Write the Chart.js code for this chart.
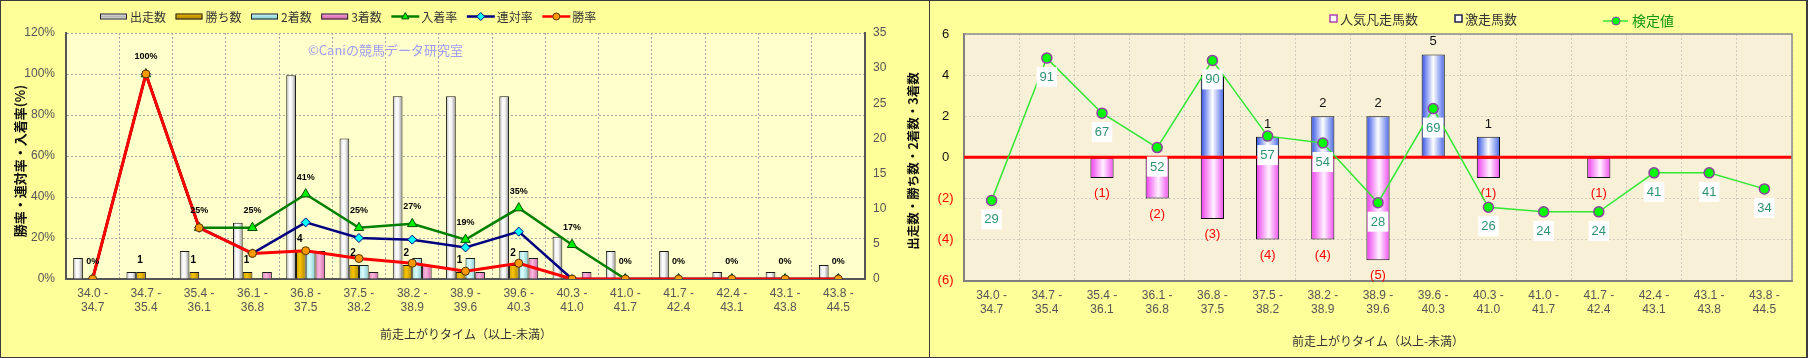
<!DOCTYPE html>
<html><head><meta charset="utf-8">
<script src="https://cdn.jsdelivr.net/npm/chart.js@4.4.0/dist/chart.umd.min.js"></script>
<style>
html,body{margin:0;padding:0;background:#fff;}
#wrap{position:relative;width:1808px;height:358px;background:#3c3c3c;overflow:hidden;}
#lp{position:absolute;left:1px;top:1px;width:928px;height:356px;background:#FFFF99;}
#rp{position:absolute;left:930px;top:1px;width:876px;height:356px;background:#FFFF99;}
canvas{display:block;}
</style></head><body>
<div id="wrap"><div id="lp"><canvas id="c1" width="928" height="356"></canvas></div><div id="rp"><canvas id="c2" width="876" height="356"></canvas></div></div>
<script>
// ---------- data ----------
const lowBounds  = ['34.0','34.7','35.4','36.1','36.8','37.5','38.2','38.9','39.6','40.3','41.0','41.7','42.4','43.1','43.8'];
const highBounds = ['34.7','35.4','36.1','36.8','37.5','38.2','38.9','39.6','40.3','41.0','41.7','42.4','43.1','43.8','44.5'];
const runs    = [3,1,4,8,29,20,26,26,26,6,4,4,1,1,2];
const wins    = [0,1,1,1,4,2,2,1,2,0,0,0,0,0,0];
const seconds = [0,0,0,0,4,2,3,3,4,0,0,0,0,0,0];
const thirds  = [0,0,0,1,4,1,2,1,3,1,0,0,0,0,0];
const placeRate    = [0,100,25,25,41.4,25,26.9,19.2,34.6,16.7,0,0,0,0,0];
const quinellaRate = [0,100,25,12.5,27.6,20,19.2,15.4,23.1,0,0,0,0,0,0];
const winRate      = [0,100,25,12.5,13.8,10,7.7,3.8,7.7,0,0,0,0,0,0];
const popularFail = [0,0,-1,-2,-3,-4,-4,-5,0,-1,0,-1,0,0,0];
const longshot    = [0,0,0,0,4,1,2,2,5,1,0,0,0,0,0];
const testValue   = [29,91,67,52,90,57,54,28,69,26,24,24,41,41,34];

const xLabels = lowBounds.map((lo,i)=>[lo+' -', highBounds[i]]);
const nz = a => a.map(v => v === 0 ? null : v);

// ---------- styles ----------
const FONT = '"Liberation Sans","Noto Sans CJK JP",sans-serif';
const JFONT = '"Noto Sans CJK JP","Liberation Sans",sans-serif';
const G_RUN  = [[0,'#B4B4B4'],[0.35,'#FFFFFF'],[0.6,'#F2F2F2'],[1,'#8A8A8A']];
const G_WIN  = [[0,'#C99A00'],[0.4,'#F7C600'],[1,'#AD8200']];
const G_2ND  = [[0,'#9EE2E6'],[0.4,'#DAFCFC'],[1,'#84CBD2']];
const G_3RD  = [[0,'#E47DBE'],[0.4,'#F9B8DD'],[1,'#D268AC']];
const G_BLUE = [[0,'#2E4EE6'],[0.5,'#FFFFFF'],[1,'#4866E8']];
const G_PINK = [[0,'#EE3CEE'],[0.55,'#FFF2FF'],[1,'#F04EF0']];

function barGrad(c, stops, slot, nSlots, catPct, barPct) {
  const chart = c.chart; const xs = chart.scales && chart.scales.x;
  if (c.type !== 'data' || !xs || !chart.chartArea) return stops[1][1];
  const n = chart.data.labels.length;
  const catW = (xs.right - xs.left) / n;
  const center = xs.getPixelForValue(c.dataIndex);
  const groupW = catW * catPct, slotW = groupW / nSlots, barW = slotW * barPct;
  const x0 = center - groupW/2 + slot*slotW + (slotW - barW)/2;
  const g = chart.ctx.createLinearGradient(x0, 0, x0 + barW, 0);
  stops.forEach(s => g.addColorStop(s[0], s[1]));
  return g;
}
function vtext(ctx, text, x, y, font, color) {
  ctx.save(); ctx.translate(x, y); ctx.rotate(-Math.PI/2);
  ctx.textAlign = 'center'; ctx.textBaseline = 'middle'; ctx.font = font; ctx.fillStyle = color;
  ctx.fillText(text, 0, 0); ctx.restore();
}
function drawMarker(ctx, style, x, y, r, fill, stroke) {
  ctx.save(); ctx.fillStyle = fill; ctx.strokeStyle = stroke; ctx.lineWidth = 1;
  ctx.beginPath();
  if (style === 'triangle') { ctx.moveTo(x, y - r); ctx.lineTo(x + r*0.9, y + r*0.6); ctx.lineTo(x - r*0.9, y + r*0.6); ctx.closePath(); }
  else if (style === 'diamond') { ctx.moveTo(x, y - r); ctx.lineTo(x + r, y); ctx.lineTo(x, y + r); ctx.lineTo(x - r, y); ctx.closePath(); }
  else { ctx.arc(x, y, r, 0, Math.PI*2); }
  ctx.fill(); ctx.stroke(); ctx.restore();
}

// ---------- left chart ----------
const leftPlugin = {
  id: 'leftDeco',
  beforeDraw(chart) {
    const {ctx, chartArea: a} = chart;
    ctx.save(); ctx.fillStyle = '#FFFFCC'; ctx.fillRect(a.left, a.top, a.right - a.left, a.bottom - a.top); ctx.restore();
  },
  beforeDatasetsDraw(chart) {
    const ctx = chart.ctx;
    ctx.save(); ctx.font = '13px ' + JFONT; ctx.fillStyle = '#9D9DF2'; ctx.textBaseline = 'middle'; ctx.textAlign = 'left';
    ctx.fillText('©Caniの競馬データ研究室', 307, 49); ctx.restore();
  },
  afterDatasetsDraw(chart) {
    const ctx = chart.ctx;
    ctx.save(); ctx.fillStyle = '#000'; ctx.textAlign = 'center'; ctx.textBaseline = 'middle';
    ctx.font = 'bold 9px ' + FONT;
    const mPlace = chart.getDatasetMeta(4);
    mPlace.data.forEach((el, i) => { ctx.fillText(Math.round(placeRate[i]) + '%', el.x, el.y - 17); });
    ctx.font = 'bold 10px ' + FONT;
    const mWin = chart.getDatasetMeta(1);
    mWin.data.forEach((el, i) => { if (wins[i] > 0) ctx.fillText(String(wins[i]), el.x - 1, el.y - 11.5); });
    ctx.restore();
  },
  afterDraw(chart) {
    const ctx = chart.ctx;
    const items = [
      {kind:'box', g:G_RUN, t:'出走数'}, {kind:'box', g:G_WIN, t:'勝ち数'},
      {kind:'box', g:G_2ND, t:'2着数'}, {kind:'box', g:G_3RD, t:'3着数'},
      {kind:'line', c:'#008000', m:'triangle', f:'#00EE00', s:'#005000', t:'入着率'},
      {kind:'line', c:'#000080', m:'diamond', f:'#00FFFF', s:'#000080', t:'連対率'},
      {kind:'line', c:'#FF0000', m:'circle', f:'#FF9900', s:'#553300', t:'勝率'}
    ];
    let x = 99; const y = 15.5;
    ctx.save(); ctx.font = '12px ' + JFONT; ctx.textBaseline = 'middle'; ctx.textAlign = 'left';
    items.forEach(it => {
      if (it.kind === 'box') {
        const g = ctx.createLinearGradient(0, y - 3, 0, y + 3);
        g.addColorStop(0, it.g[1][1]); g.addColorStop(0.5, it.g[0][1]); g.addColorStop(1, it.g[2][1] || it.g[1][1]);
        ctx.fillStyle = g; ctx.fillRect(x, y - 3, 27, 6);
        ctx.strokeStyle = '#222'; ctx.lineWidth = 1; ctx.strokeRect(x + 0.5, y - 2.5, 26, 5);
        x += 30;
      } else {
        ctx.strokeStyle = it.c; ctx.lineWidth = 2.5; ctx.beginPath(); ctx.moveTo(x, y); ctx.lineTo(x + 28, y); ctx.stroke();
        drawMarker(ctx, it.m, x + 14, y, it.m === 'circle' ? 3.5 : 4, it.f, it.s);
        x += 30;
      }
      ctx.fillStyle = '#333'; ctx.fillText(it.t, x, y + 0.5);
      x += ctx.measureText(it.t).width + 9.5;
    });
    ctx.restore();
    vtext(ctx, '勝率・連対率・入着率(%)', 19, 160, 'bold 13px ' + JFONT, '#111');
    vtext(ctx, '出走数・勝ち数・2着数・3着数', 912.5, 160, 'bold 12.5px ' + JFONT, '#111');
    ctx.save(); ctx.font = '12px ' + JFONT; ctx.fillStyle = '#333'; ctx.textAlign = 'center'; ctx.textBaseline = 'middle';
    ctx.fillText('前走上がりタイム（以上-未満）', 465, 333); ctx.restore();
  }
};

new Chart(document.getElementById('c1'), {
  type: 'bar',
  data: {
    labels: xLabels,
    datasets: [
      {type:'bar', label:'出走数', data:nz(runs), yAxisID:'y1', order:10, borderColor:'#1a1a1a', borderWidth:1,
       backgroundColor: c => barGrad(c, G_RUN, 0, 4, 0.73, 1)},
      {type:'bar', label:'勝ち数', data:nz(wins), yAxisID:'y1', order:10, borderColor:'#1a1a1a', borderWidth:1,
       backgroundColor: c => barGrad(c, G_WIN, 1, 4, 0.73, 1)},
      {type:'bar', label:'2着数', data:nz(seconds), yAxisID:'y1', order:10, borderColor:'#1a1a1a', borderWidth:1,
       backgroundColor: c => barGrad(c, G_2ND, 2, 4, 0.73, 1)},
      {type:'bar', label:'3着数', data:nz(thirds), yAxisID:'y1', order:10, borderColor:'#1a1a1a', borderWidth:1,
       backgroundColor: c => barGrad(c, G_3RD, 3, 4, 0.73, 1)},
      {type:'line', label:'入着率', data:placeRate, yAxisID:'y', order:3, borderColor:'#008000', borderWidth:2.5,
       pointStyle:'triangle', pointRadius:5.5, pointBackgroundColor:'#00EE00', pointBorderColor:'#005000', pointBorderWidth:1, tension:0},
      {type:'line', label:'連対率', data:quinellaRate, yAxisID:'y', order:2, borderColor:'#000080', borderWidth:2.5,
       pointStyle:'rectRot', pointRadius:4.5, pointBackgroundColor:'#00FFFF', pointBorderColor:'#000080', pointBorderWidth:1, tension:0},
      {type:'line', label:'勝率', data:winRate, yAxisID:'y', order:1, borderColor:'#FF0000', borderWidth:3,
       pointStyle:'circle', pointRadius:4, pointBackgroundColor:'#FF9900', pointBorderColor:'#553300', pointBorderWidth:1, tension:0}
    ]
  },
  options: {
    responsive:false, animation:false, events:[],
    layout:{padding:{top:32, left:0, right:0, bottom:0}},
    datasets:{bar:{categoryPercentage:0.73, barPercentage:1}},
    plugins:{legend:{display:false}, tooltip:{enabled:false}},
    scales:{
      x:{offset:true, grid:{color:'#A8A8A8', lineWidth:1, drawTicks:false, offset:true},
         border:{display:true, color:'#555', width:2, dash:[2,2]},
         ticks:{color:'#555', font:{family:FONT, size:12, lineHeight:1.1}, padding:8.5, maxRotation:0, autoSkip:false},
         afterFit: s => { s.height = 78; }},
      y:{position:'left', min:0, max:120,
         ticks:{stepSize:20, callback: v => v + '%', color:'#555', font:{family:FONT, size:12}, padding:11},
         grid:{color:'#A8A8A8', lineWidth:1, drawTicks:false},
         border:{display:true, color:'#555', width:2, dash:[2,2]},
         afterFit: s => { s.width = 65; }},
      y1:{position:'right', min:0, max:35,
         ticks:{stepSize:5, color:'#555', font:{family:FONT, size:12}, padding:8},
         grid:{drawOnChartArea:false, drawTicks:false},
         border:{display:true, color:'#555', width:2},
         afterFit: s => { s.width = 64; }}
    }
  },
  plugins:[leftPlugin]
});

// ---------- right chart ----------
const rightPlugin = {
  id: 'rightDeco',
  beforeDraw(chart) {
    const {ctx, chartArea: a} = chart;
    ctx.save(); ctx.fillStyle = '#F9F0D8'; ctx.fillRect(a.left, a.top, a.right - a.left, a.bottom - a.top); ctx.restore();
  },
  beforeDatasetDraw(chart, args) {
    if (args.index !== 0) return;
    const {ctx, chartArea: a} = chart; const y0 = chart.scales.y.getPixelForValue(0);
    ctx.save(); ctx.strokeStyle = '#FF0000'; ctx.lineWidth = 3; ctx.beginPath(); ctx.moveTo(a.left, y0); ctx.lineTo(a.right, y0); ctx.stroke();
    // bar value labels (under the line series and its labels)
    ctx.textAlign = 'center'; ctx.textBaseline = 'middle'; ctx.font = '13px ' + FONT;
    const mPink = chart.getDatasetMeta(1), mBlue = chart.getDatasetMeta(2);
    mPink.data.forEach((el, i) => { if (popularFail[i] < 0) { ctx.fillStyle = '#FF0000'; ctx.fillText('(' + (-popularFail[i]) + ')', el.x, el.y + 15.5); } });
    mBlue.data.forEach((el, i) => { if (longshot[i] > 0) { ctx.fillStyle = '#111'; ctx.fillText(String(longshot[i]), el.x, el.y - 12.7); } });
    ctx.restore();
  },
  afterDatasetsDraw(chart) {
    const {ctx, chartArea: a} = chart;
    ctx.save(); ctx.strokeStyle = '#8C8C8C'; ctx.lineWidth = 1.5;
    ctx.beginPath(); ctx.moveTo(a.left, a.top); ctx.lineTo(a.right, a.top); ctx.lineTo(a.right, a.bottom); ctx.stroke(); ctx.restore();
    ctx.save(); ctx.textAlign = 'center'; ctx.textBaseline = 'middle'; ctx.font = '13px ' + FONT;
    const mLine = chart.getDatasetMeta(0);
    mLine.data.forEach((el, i) => {
      const t = String(testValue[i]); const w = ctx.measureText(t).width + 6;
      ctx.fillStyle = '#FFFFFF'; ctx.fillRect(el.x - w/2, el.y + 9, w, 20);
      ctx.fillStyle = '#2F9273'; ctx.fillText(t, el.x, el.y + 19.5);
    });
    ctx.restore();
  },
  afterDraw(chart) {
    const ctx = chart.ctx;
    ctx.save(); ctx.textBaseline = 'middle'; ctx.textAlign = 'left';
    ctx.fillStyle = '#FFFFFF'; ctx.strokeStyle = '#B040B0'; ctx.lineWidth = 1.5;
    ctx.fillRect(400, 14, 7, 7); ctx.strokeRect(400, 14, 7, 7);
    ctx.font = '13px ' + JFONT; ctx.fillStyle = '#333'; ctx.fillText('人気凡走馬数', 410, 18);
    ctx.fillStyle = '#FFFFFF'; ctx.strokeStyle = '#20204A';
    ctx.fillRect(525, 14, 7, 7); ctx.strokeRect(525, 14, 7, 7);
    ctx.fillStyle = '#333'; ctx.fillText('激走馬数', 535, 18);
    ctx.strokeStyle = '#33E833'; ctx.lineWidth = 1.5; ctx.beginPath(); ctx.moveTo(673, 20); ctx.lineTo(698, 20); ctx.stroke();
    drawMarker(ctx, 'circle', 686, 20, 4, '#00FF00', '#9040A0');
    ctx.font = '14px ' + JFONT; ctx.fillStyle = '#129612'; ctx.fillText('検定値', 702, 20);
    ctx.font = '12px ' + JFONT; ctx.fillStyle = '#333'; ctx.textAlign = 'center';
    ctx.fillText('前走上がりタイム（以上-未満）', 448, 340.5);
    ctx.restore();
  }
};

new Chart(document.getElementById('c2'), {
  type: 'bar',
  data: {
    labels: xLabels,
    datasets: [
      {type:'line', label:'検定値', data:testValue, yAxisID:'y2', order:1, borderColor:'#33E833', borderWidth:1.5,
       pointRadius:5, pointBackgroundColor:'#00FF00', pointBorderColor:'#9040A0', pointBorderWidth:1.5, tension:0},
      {type:'bar', label:'人気凡走馬数', data:nz(popularFail), yAxisID:'y', stack:'s', order:5,
       borderColor:'#111', borderWidth:1, borderSkipped:false,
       backgroundColor: c => barGrad(c, G_PINK, 0, 1, 1, 0.42)},
      {type:'bar', label:'激走馬数', data:nz(longshot), yAxisID:'y', stack:'s', order:5,
       borderColor:'#111', borderWidth:1, borderSkipped:false,
       backgroundColor: c => barGrad(c, G_BLUE, 0, 1, 1, 0.42)}
    ]
  },
  options: {
    responsive:false, animation:false, events:[],
    layout:{padding:{top:33, left:0, right:14, bottom:0}},
    datasets:{bar:{categoryPercentage:1, barPercentage:0.42}},
    plugins:{legend:{display:false}, tooltip:{enabled:false}},
    scales:{
      x:{stacked:true, offset:true, grid:{color:'#D2CCBE', lineWidth:1, drawTicks:false, offset:true},
         border:{display:true, color:'#808080', width:2, dash:[2,2]},
         ticks:{color:'#555', font:{family:FONT, size:12, lineHeight:1.1}, padding:8.7, maxRotation:0, autoSkip:false},
         afterFit: s => { s.height = 76.3; }},
      y:{stacked:true, position:'left', min:-6, max:6,
         ticks:{stepSize:2, crossAlign:'center', padding:10.5,
                callback: v => v < 0 ? '(' + (-v) + ')' : String(v),
                color: c => (c.tick && c.tick.value < 0) ? '#FF0000' : '#111',
                font:{family:FONT, size:13}},
         grid:{color:'#D2CCBE', lineWidth:1, drawTicks:false},
         border:{display:true, color:'#808080', width:2, dash:[2,2]},
         afterFit: s => { s.width = 34; }},
      y2:{display:false, min:-6, max:101.5}
    }
  },
  plugins:[rightPlugin]
});
</script>
</body></html>
